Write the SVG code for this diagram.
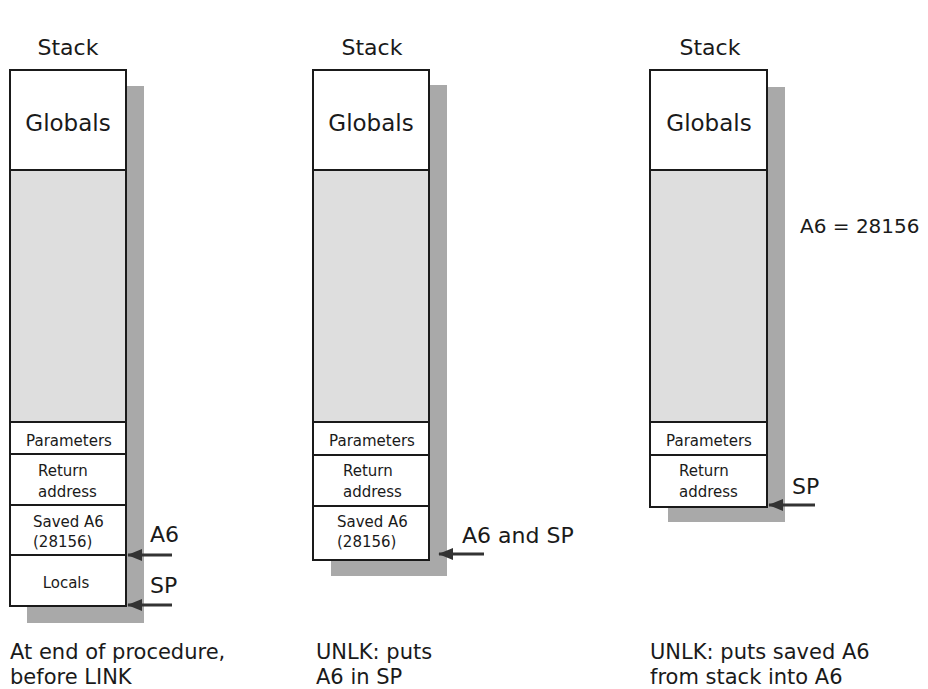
<svg xmlns="http://www.w3.org/2000/svg" width="928" height="689" viewBox="0 0 928 689">
<style>
text{font-family:"DejaVu Sans","Liberation Sans",sans-serif;fill:#1a1a1a}
.title{font-size:22px;text-anchor:middle}
.glob{font-size:23px;text-anchor:middle}
.sm{font-size:15px}
.mid{text-anchor:middle}
.lab{font-size:22px}
.cap{font-size:21px}
.shadow{fill:#a9a9a9}
.box{fill:#fff;stroke:#1a1a1a;stroke-width:2}
.free{fill:#dedede;stroke:#1a1a1a;stroke-width:2}
.arrow{stroke:#333;stroke-width:3;fill:none;marker-end:url(#ah)}
</style>
<defs>
<marker id="ah" viewBox="0 0 10 8" refX="9.5" refY="4" markerWidth="5" markerHeight="4" orient="auto" markerUnits="strokeWidth">
<path d="M0,0 L10,4 L0,8 z" fill="#333"/>
</marker>
</defs>

<g id="stack1">
<rect class="shadow" x="27" y="86" width="117" height="537"/>
<text class="title" x="68" y="55">Stack</text>
<rect class="box" x="10" y="70" width="116" height="100"/>
<text class="glob" x="68" y="131">Globals</text>
<rect class="free" x="10" y="170" width="116" height="252"/>
<rect class="box" x="10" y="422" width="116" height="32"/>
<text class="sm mid" x="69" y="446">Parameters</text>
<rect class="box" x="10" y="454" width="116" height="51"/>
<text class="sm" x="38" y="476">Return</text>
<text class="sm" x="38" y="497">address</text>
<rect class="box" x="10" y="505" width="116" height="50"/>
<text class="sm" x="33" y="527">Saved A6</text>
<text class="sm" x="33" y="547">(28156)</text>
<rect class="box" x="10" y="555" width="116" height="51"/>
<text class="sm mid" x="66" y="588">Locals</text>
<text class="lab" x="150" y="542">A6</text>
<text class="lab" x="150" y="593">SP</text>
<text class="cap" x="10" y="659">At end of procedure,</text>
<text class="cap" x="10" y="684">before LINK</text>
</g>

<g id="stack2">
<rect class="shadow" x="331" y="85" width="116" height="491"/>
<text class="title" x="372" y="55">Stack</text>
<rect class="box" x="313" y="70" width="116" height="100"/>
<text class="glob" x="371" y="131">Globals</text>
<rect class="free" x="313" y="170" width="116" height="252"/>
<rect class="box" x="313" y="422" width="116" height="33"/>
<text class="sm mid" x="372" y="446">Parameters</text>
<rect class="box" x="313" y="455" width="116" height="51"/>
<text class="sm" x="343" y="476">Return</text>
<text class="sm" x="343" y="497">address</text>
<rect class="box" x="313" y="506" width="116" height="54"/>
<text class="sm" x="337" y="527">Saved A6</text>
<text class="sm" x="337" y="547">(28156)</text>
<text class="lab" x="462" y="543">A6 and SP</text>
<text class="cap" x="316" y="659">UNLK: puts</text>
<text class="cap" x="316" y="684">A6 in SP</text>
</g>

<g id="stack3">
<rect class="shadow" x="668" y="87" width="117" height="435"/>
<text class="title" x="710" y="55">Stack</text>
<rect class="box" x="650" y="70" width="117" height="100"/>
<text class="glob" x="709" y="131">Globals</text>
<rect class="free" x="650" y="170" width="117" height="252"/>
<rect class="box" x="650" y="422" width="117" height="33"/>
<text class="sm mid" x="709" y="446">Parameters</text>
<rect class="box" x="650" y="455" width="117" height="52"/>
<text class="sm" x="679" y="476">Return</text>
<text class="sm" x="679" y="497">address</text>
<text x="800" y="233" style="font-size:20px">A6 = 28156</text>
<text class="lab" x="792" y="494">SP</text>
<text class="cap" x="650" y="659">UNLK: puts saved A6</text>
<text class="cap" x="650" y="684">from stack into A6</text>
</g>

<g id="connectors">
<line class="arrow" x1="172" y1="555" x2="128" y2="555"/>
<line class="arrow" x1="172" y1="605" x2="128" y2="605"/>
<line class="arrow" x1="484" y1="554" x2="439" y2="554"/>
<line class="arrow" x1="815" y1="505" x2="769" y2="505"/>
</g>
</svg>
